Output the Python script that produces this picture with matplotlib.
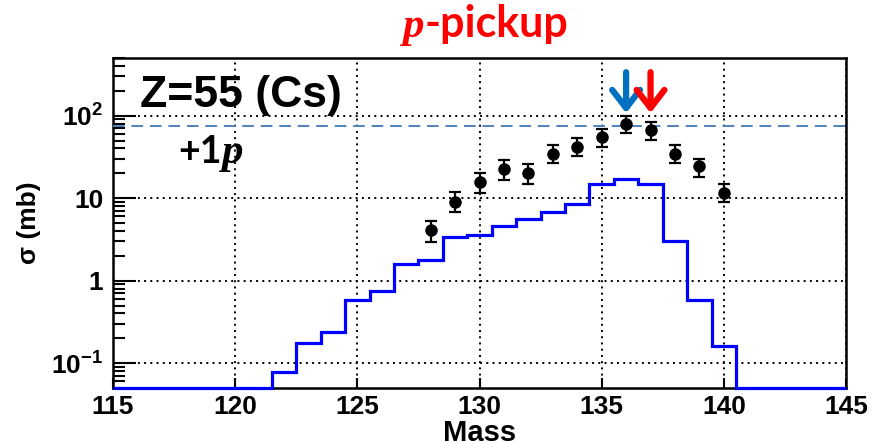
import numpy as np
import matplotlib
matplotlib.use("Agg")
import matplotlib.pyplot as plt
from matplotlib.ticker import FixedLocator, FixedFormatter, LogLocator, NullFormatter

plt.rcParams["font.family"] = ["Liberation Sans", "DejaVu Sans"]
plt.rcParams["mathtext.fontset"] = "custom"
plt.rcParams["mathtext.bf"] = "Liberation Sans:bold"
plt.rcParams["mathtext.rm"] = "Liberation Sans:bold"
plt.rcParams["mathtext.default"] = "bf"

# calculated cross sections per mass bin (mb)
masses = list(range(115, 146))
calc = [0, 0, 0, 0, 0, 0, 0,
        0.078, 0.174, 0.24, 0.58, 0.75, 1.6, 1.8, 3.36, 3.58,
        4.64, 5.54, 6.84, 8.4, 15.0, 17.3, 15.0, 3.06, 0.58, 0.16,
        0, 0, 0, 0, 0]

# measured cross sections with error bounds (mb)
meas_mass = [128, 129, 130, 131, 132, 133, 134, 135, 136, 137, 138, 139, 140]
meas = [4.1, 9.0, 15.7, 22.4, 20.4, 34.5, 41.5, 55.8, 79.4, 67.2, 33.9, 24.3, 11.7]
meas_lo = [2.97, 6.73, 11.6, 16.8, 14.7, 26.6, 32.3, 41.5, 61.2, 51.0, 26.6, 18.1, 9.0]
meas_hi = [5.28, 11.9, 20.4, 28.7, 26.2, 43.5, 53.3, 69.2, 100.0, 84.7, 43.5, 30.1, 15.0]

ref_level = 75
arrow_blue_mass = 136
arrow_red_mass = 137

xmin, xmax = 115, 145
ymin, ymax = 0.05, 500

fig = plt.figure(figsize=(8.72, 4.44), dpi=100)
ax = fig.add_axes([113 / 872, 56 / 444, 733 / 872, 330 / 444])

edges = np.clip(np.arange(masses[0] - 0.5, masses[-1] + 1.0, 1.0), xmin, xmax)
ax.stairs(np.clip(calc, ymin, None), edges, baseline=None,
          color="#0000ff", lw=2.3, zorder=4, clip_on=False)

yerr = [np.array(meas) - np.array(meas_lo), np.array(meas_hi) - np.array(meas)]
ax.errorbar(meas_mass, meas, yerr=yerr, fmt="o", color="black", ms=8,
            elinewidth=1.6, capsize=4.3, capthick=1.6, zorder=5)

ax.axhline(ref_level, color="#4f81bd", lw=1.4, dashes=(6, 3.5), zorder=3)

ax.set_yscale("log")
ax.set_xlim(xmin, xmax)
ax.set_ylim(ymin, ymax)

ax.xaxis.set_major_locator(FixedLocator([115, 120, 125, 130, 135, 140, 145]))
ax.yaxis.set_major_locator(FixedLocator([0.1, 1, 10, 100]))
ax.yaxis.set_major_formatter(FixedFormatter([r"$10^{-1}$", "1", "10", r"$10^{2}$"]))
ax.yaxis.set_minor_locator(LogLocator(base=10, subs=np.arange(2, 10)))
ax.yaxis.set_minor_formatter(NullFormatter())

ax.tick_params(axis="both", which="both", direction="in", width=1.5,
               labelsize=19, top=False, right=False)
ax.tick_params(axis="y", which="major", length=16.5, pad=7)
ax.tick_params(axis="y", which="minor", length=8.6)
ax.tick_params(axis="x", which="major", length=7, pad=5)
for lab in ax.get_xticklabels() + ax.get_yticklabels():
    lab.set_fontweight("bold")

ax.grid(True, which="major", color="black", lw=1.4, linestyle=(0, (1, 2.2)))
for s in ax.spines.values():
    s.set_linewidth(1.8)

ax.set_xlabel("Mass", fontsize=21, fontweight="bold", labelpad=0)
ax.set_ylabel("σ (mb)", fontsize=19, fontweight="bold", labelpad=7)

# arrows marking the two masses of interest
for m, c in [(arrow_blue_mass, "#0070c0"), (arrow_red_mass, "#ff0000")]:
    ax.annotate("", xy=(m, 0.833), xytext=(m, 0.957),
                xycoords=("data", "axes fraction"),
                textcoords=("data", "axes fraction"),
                arrowprops=dict(arrowstyle="->,head_length=0.65,head_width=0.5",
                                lw=4.5, color=c, mutation_scale=20,
                                shrinkA=0, shrinkB=0))

# panel labels
fig.text(140 / 872, 1 - 107 / 444, "Z=55 (Cs)", fontsize=32, fontweight="bold",
         ha="left", va="baseline")
fig.text(424 / 872, 1 - 37 / 444, "p", fontsize=31, fontweight="bold",
         fontstyle="italic", family="Liberation Serif", color="#ff0000",
         ha="right", va="baseline")
fig.text(424 / 872, 1 - 37 / 444, "-pickup", fontsize=31, fontweight="bold",
         family="Lato", color="#ff0000", ha="left", va="baseline")
fig.text(178 / 872, 1 - 163 / 444, "+1", fontsize=27, fontweight="bold",
         family="Lato", ha="left", va="baseline")
fig.text(221 / 872, 1 - 163 / 444, "p", fontsize=31, fontweight="bold",
         fontstyle="italic", family="Liberation Serif", ha="left", va="baseline")

fig.savefig("out.png", dpi=100)
